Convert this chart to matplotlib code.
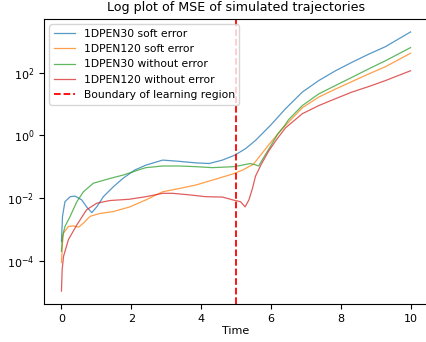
import matplotlib
matplotlib.use("Agg")
import matplotlib.pyplot as plt
import numpy as np

# Values
t_blue = [0.00, 0.03, 0.10, 0.25, 0.39, 0.58, 0.72, 0.87, 1.01, 1.20, 1.49, 1.77, 2.10, 2.42, 2.90,
          3.37, 3.85, 4.23, 4.61, 4.97, 5.28, 5.56, 5.99, 6.42, 6.90, 7.37, 7.85, 8.32, 8.80, 9.28, 10.0]
mse_blue = [4.1e-4, 2.6e-3, 7.6e-3, 1.10e-2, 1.15e-2, 8.7e-3, 5.2e-3, 3.4e-3, 5.2e-3, 1.10e-2, 2.3e-2,
            4.3e-2, 7.8e-2, 0.112, 0.162, 0.148, 0.132, 0.126, 0.162, 0.234, 0.38, 0.69, 2.1, 7.1, 24,
            56, 115, 214, 389, 676, 1995]

t_orange = [0.00, 0.03, 0.06, 0.20, 0.34, 0.49, 0.63, 0.82, 1.10, 1.49, 1.96, 2.42, 2.90, 3.37, 3.85,
            4.32, 4.94, 5.20, 5.50, 5.70, 5.94, 6.18, 6.42, 6.90, 7.37, 7.85, 8.32, 8.80, 9.28, 10.0]
mse_orange = [8.7e-5, 3.7e-4, 7.6e-4, 1.23e-3, 1.29e-3, 1.17e-3, 1.58e-3, 2.6e-3, 3.2e-3, 3.7e-3,
              5.2e-3, 8.7e-3, 1.58e-2, 2.0e-2, 2.6e-2, 3.7e-2, 6.0e-2, 7.9e-2, 0.12, 0.23, 0.50,
              1.05, 2.1, 7.6, 16.6, 30, 52, 91, 155, 417]

t_green = [0.00, 0.03, 0.10, 0.25, 0.44, 0.63, 0.91, 1.39, 1.77, 2.20, 2.42, 2.90, 3.37, 3.85, 4.32,
           4.94, 5.18, 5.40, 5.55, 5.65, 5.83, 6.04, 6.20, 6.37, 6.51, 6.90, 7.37, 7.85, 8.32, 8.80,
           9.28, 10.0]
mse_green = [2.0e-4, 5.9e-4, 1.23e-3, 2.6e-3, 7.6e-3, 1.58e-2, 2.95e-2, 4.2e-2, 5.4e-2, 7.8e-2,
             9.3e-2, 0.105, 0.105, 0.100, 0.093, 0.100, 0.112, 0.126, 0.115, 0.105, 0.23, 0.56,
             1.12, 1.9, 3.2, 8.9, 21, 39, 71, 132, 240, 631]

t_red = [0.00, 0.02, 0.06, 0.20, 0.44, 0.72, 1.01, 1.39, 1.94, 2.42, 2.90, 3.18, 3.66, 4.13, 4.61,
         4.94, 5.13, 5.26, 5.37, 5.47, 5.56, 5.72, 5.94, 6.18, 6.42, 6.90, 7.37, 7.85, 8.32, 8.80,
         9.28, 10.0]
mse_red = [1.07e-5, 5.1e-5, 1.38e-4, 4.7e-4, 1.38e-3, 4.2e-3, 6.8e-3, 8.3e-3, 9.1e-3, 1.10e-2,
           1.41e-2, 1.41e-2, 1.26e-2, 1.10e-2, 1.07e-2, 8.5e-3, 7.6e-3, 5.2e-3, 8.7e-3, 2.0e-2,
           5.0e-2, 0.117, 0.32, 0.78, 1.74, 4.9, 8.9, 14.8, 24, 36, 56, 115]

labels = ["1DPEN30 soft error", "1DPEN120 soft error", "1DPEN30 without error",
          "1DPEN120 without error"]
boundary = 5
boundary_label = "Boundary of learning region"
title = "Log plot of MSE of simulated trajectories"
xlabel = "Time"
xticks = [0, 2, 4, 6, 8, 10]
yticks = [1e-4, 1e-2, 1e0, 1e2]

fig = plt.figure(figsize=(4.26, 3.42), dpi=100)
ax = fig.add_axes([44 / 426, 38 / 342, 384 / 426, 285 / 342])

series = [(t_blue, mse_blue), (t_orange, mse_orange), (t_green, mse_green), (t_red, mse_red)]
colors = ["tab:blue", "tab:orange", "tab:green", "tab:red"]
for (t, m), c, lab in zip(series, colors, labels):
    ax.plot(t, m, color=c, lw=0.9, alpha=0.75, label=lab)

ax.axvline(boundary, color="red", ls="--", lw=1.3, label=boundary_label)
ax.set_yscale("log")
ax.set_xlim(-0.5, 10.5)
ax.set_xticks(xticks)
ax.set_yticks(yticks)
ax.yaxis.set_minor_locator(matplotlib.ticker.NullLocator())
ax.tick_params(labelsize=8)
ax.set_title(title, fontsize=9.1)
ax.set_xlabel(xlabel, fontsize=8, labelpad=2)
ax.legend(loc="upper left", fontsize=7.75)

fig.savefig("out.png", dpi=100)
